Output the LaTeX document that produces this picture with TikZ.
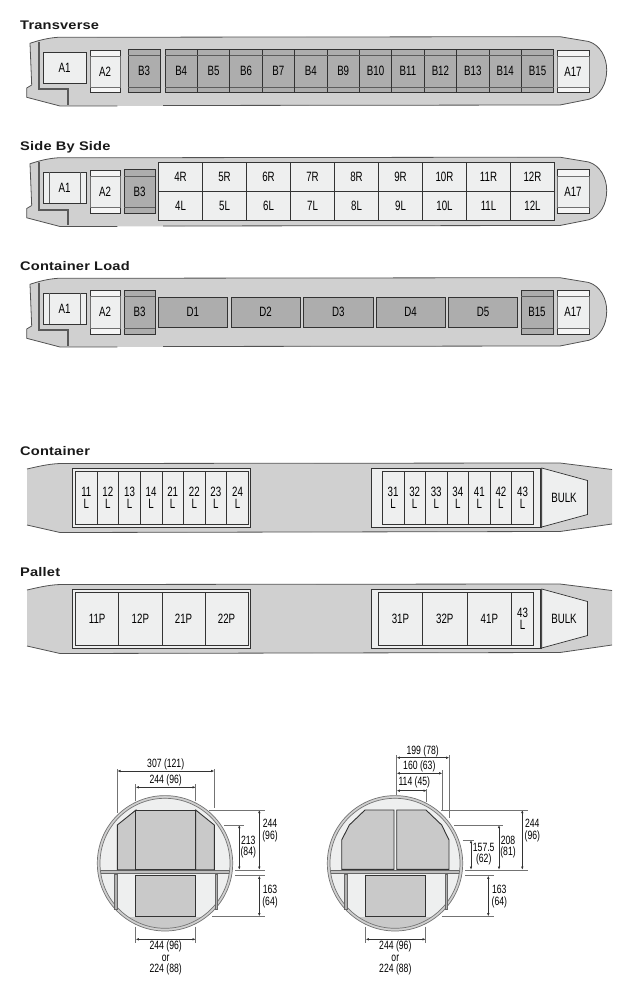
\documentclass[tikz,border=0pt]{standalone}
\usepackage{fontspec}
\usetikzlibrary{arrows.meta}
\setmainfont{Liberation Sans}
\newfontfamily\labfont[FakeStretch=0.72]{Liberation Sans}
\newfontfamily\dimfont[FakeStretch=0.72]{Liberation Sans}
\newfontfamily\titlefont[FakeStretch=1.17,LetterSpace=1.5]{Liberation Sans Bold}
\definecolor{hull}{HTML}{D0D0D0}
\definecolor{pale}{HTML}{EEEFEF}
\definecolor{dark}{HTML}{ADADAD}
\definecolor{ink}{HTML}{333333}
\definecolor{seg}{HTML}{C9C9C9}
\tikzset{
  lab/.style={inner sep=0pt,align=center,text=black,font=\labfont\fontsize{13.5}{12}\selectfont},
  dimlab/.style={inner sep=0pt,align=center,text=black,font=\dimfont\fontsize{12}{11.7}\selectfont},
  ttl/.style={inner sep=0pt,anchor=base west,text=black!90,font=\titlefont\fontsize{12.5}{13}\selectfont},
  palebox/.style={draw=ink,line width=.7pt,fill=pale},
  darkbox/.style={draw=ink,line width=.8pt,fill=dark},
  hullline/.style={draw=ink!85,line width=.8pt},
  doorline/.style={draw=black!65,line width=1.7pt},
  dimline/.style={draw=ink,line width=.6pt,{Latex[length=3.2pt,width=2.6pt]}-{Latex[length=3.2pt,width=2.6pt]}},
  ext/.style={draw=black!55,line width=.6pt},
  cargo/.style={draw=ink,line width=.9pt,fill=seg},
  strut/.style={draw=black!60,line width=.3pt,fill=black!30}
}
\newcounter{nd}
% x0 y0 x1 y1 style text
\newcommand{\cellbox}[6]{\stepcounter{nd}\path[#5] (#1,#2) rectangle (#3,#4);
  \node[lab] (n\arabic{nd}) at ({(#1+#3)/2},{(#2+#4)/2}) {#6};}
% A-type box with white end bands: x0 y0 x1 y1 b1 b2 text
\newcommand{\abox}[7]{\stepcounter{nd}\path[draw=ink,line width=.7pt,fill=white!96!black] (#1,#2) rectangle (#3,#4);
  \path[draw=ink!70,line width=.6pt,fill=pale] (#1,#5) rectangle (#3,#6);
  \node[lab] (n\arabic{nd}) at ({(#1+#3)/2},{(#5+#6)/2}) {#7};}
% dark box with bands
\newcommand{\bbox}[7]{\stepcounter{nd}\path[darkbox] (#1,#2) rectangle (#3,#4);
  \draw[ink!80,line width=.5pt] (#1,#5) -- (#3,#5) (#1,#6) -- (#3,#6);
  \node[lab] (n\arabic{nd}) at ({(#1+#3)/2},{(#5+#6)/2}) {#7};}
% A1 with side bands
\newcommand{\aonebox}[2]{\stepcounter{nd}\path[palebox] (43,#1) rectangle (86,#2);
  \draw[ink!80,line width=.5pt] (49.5,#1) -- (49.5,#2) (80,#1) -- (80,#2);
  \node[lab] (n\arabic{nd}) at (64.5,{(#1+#2)/2}) {A1};}
\newcommand{\hullshape}{
  \path[fill=hull] (30,43.3) .. controls (40,40) and (48,38) .. (58,37.3) -- (560,36.7) -- (588.7,41.5)
    .. controls (600,45) and (606.7,57) .. (606.7,70) .. controls (606.7,84) and (600,96) .. (588.7,99.3)
    -- (560,105) -- (60,106) -- (26.7,97.3) -- (26.7,88) -- (31.7,85) -- cycle;
  \path[hullline] (31.7,85) -- (30,43.3) .. controls (40,40) and (48,38) .. (58,37.3) -- (560,36.7) -- (588.7,41.5)
    .. controls (600,45) and (606.7,57) .. (606.7,70) .. controls (606.7,84) and (600,96) .. (588.7,99.3)
    -- (560,105) -- (163,105.5);
  \path[hullline] (31.7,85) -- (26.7,88) -- (26.7,97.3) -- (60,106) -- (117.3,106);
  \draw[doorline] (39.3,42) -- (39.3,89.3) -- (68.3,89.3) -- (68.3,105);
}
% lower-deck hull
\newcommand{\lowerhull}{
  \path[fill=hull] (27,469) .. controls (38,466.5) and (48,464) .. (60,463.5) -- (560,463) -- (612,469.5)
    -- (612,524) -- (560,531.5) -- (60,532.5) -- (27,525) -- cycle;
  \draw[hullline] (27,469) .. controls (38,466.5) and (48,464) .. (60,463.5) -- (560,463) -- (612,469.5);
  \draw[hullline] (27,525) -- (60,532.5) -- (560,531.5) -- (612,524);
  % left hold
  \path[draw=ink,line width=.7pt,fill=pale] (72.5,468) rectangle (250.5,527);
  % right hold
  \path[draw=ink,line width=.7pt,fill=pale] (371.7,468) rectangle (541.7,527);
  \path[draw=ink,line width=.7pt,fill=pale] (541.7,468) -- (587.5,480.5) -- (587.5,514.5) -- (541.7,527) -- cycle;
  \draw[ink,line width=1pt] (540.7,468) -- (540.7,527);
  \stepcounter{nd}\node[lab] (n\arabic{nd}) at (564,498) {BULK};
}
% cross-section common part, centre x
\newcommand{\crosssection}[1]{
  \begin{scope}[shift={(#1,863.3)}]
    \path[draw=black!55,line width=.7pt,fill=hull] (0,0) circle (67.7);
    \path[fill=pale] (0,0) circle (65);
    \begin{scope}
      \clip (0,0) circle (65);
      \path[fill=seg] (-70,53.5) rectangle (70,70);
      \path[draw=black!60,line width=.4pt,fill=black!25] (-70,7.3) rectangle (70,10);
    \end{scope}
    \draw[black!55,line width=.7pt] (0,0) circle (65);
    \path[strut] (-50.6,10.5) rectangle (-48.2,46);
    \path[strut] (50.2,10.5) rectangle (52.6,46);
  \end{scope}
}
\begin{document}
\begin{tikzpicture}[x=1pt,y=-1pt]
\useasboundingbox (0,0) rectangle (640,992);

\node[ttl] (t1) at (20,29.5) {Transverse};
\node[ttl] (t2) at (20,150.5) {Side By Side};
\node[ttl] (t3) at (20,270.8) {Container Load};
\node[ttl] (t4) at (20,455.8) {Container};
\node[ttl] (t5) at (20,576.5) {Pallet};

% ---------- Transverse
\hullshape
\cellbox{43}{52}{86}{83}{palebox}{A1}
\abox{90}{50}{120}{92}{56}{87}{A2}
\bbox{128}{49.5}{160}{92.5}{55.5}{87}{B3}
\foreach \t [count=\i from 0] in {B4,B5,B6,B7,B4,B9,B10,B11,B12,B13,B14,B15}{
  \pgfmathsetmacro{\xa}{165+32.4*\i}\pgfmathsetmacro{\xb}{\xa+32.4}
  \bbox{\xa}{49.5}{\xb}{92.5}{55.5}{87}{\t}
}
\abox{557}{50}{589}{92}{56}{87}{A17}

% ---------- Side By Side
\begin{scope}[shift={(0,120.5)}]\hullshape\end{scope}
\aonebox{172.5}{203}
\abox{90}{170}{120}{213}{176.5}{207}{A2}
\bbox{124}{169.5}{155}{213}{176.5}{207}{B3}
\foreach \n [count=\i from 0] in {4,5,6,7,8,9,10,11,12}{
  \pgfmathsetmacro{\xa}{158.5+44*\i}\pgfmathsetmacro{\xb}{\xa+44}
  \cellbox{\xa}{162.5}{\xb}{191.5}{palebox}{\n R}
  \cellbox{\xa}{191.5}{\xb}{220.5}{palebox}{\n L}
}
\draw[ink,line width=.9pt] (158.5,162.5) rectangle (554.5,220.5);
\abox{557}{169.5}{589}{213}{176}{207}{A17}

% ---------- Container Load
\begin{scope}[shift={(0,241)}]\hullshape\end{scope}
\aonebox{293.3}{324}
\abox{90}{290}{120}{334}{296}{328}{A2}
\bbox{124}{290}{155}{334}{296}{328}{B3}
\cellbox{158}{297}{227.5}{327.5}{darkbox}{D1}
\cellbox{231}{297}{300}{327.5}{darkbox}{D2}
\cellbox{303.5}{297}{373}{327.5}{darkbox}{D3}
\cellbox{376}{297}{445}{327.5}{darkbox}{D4}
\cellbox{448.5}{297}{517.5}{327.5}{darkbox}{D5}
\bbox{521}{290}{553}{334}{296}{328}{B15}
\abox{557}{290}{589}{334}{296}{328}{A17}

% ---------- Container
\lowerhull
\foreach \n [count=\i from 0] in {11,12,13,14,21,22,23,24}{
  \pgfmathsetmacro{\xa}{75.5+21.6*\i}\pgfmathsetmacro{\xb}{\xa+21.6}
  \cellbox{\xa}{471}{\xb}{524.5}{palebox}{\n\\L}
}
\foreach \n [count=\i from 0] in {31,32,33,34,41,42,43}{
  \pgfmathsetmacro{\xa}{382.3+21.57*\i}\pgfmathsetmacro{\xb}{\xa+21.57}
  \cellbox{\xa}{471}{\xb}{524}{palebox}{\n\\L}
}

% ---------- Pallet
\begin{scope}[shift={(0,121)}]
\lowerhull
\foreach \xa/\xb/\t in {75.5/118.7/11P,118.7/162/12P,162/205/21P,205/248/22P,
                        378.3/422.5/31P,422.5/467/32P,467/511.7/41P}{
  \cellbox{\xa}{471}{\xb}{524}{palebox}{\t}
}
\cellbox{511.7}{471}{533.3}{524}{palebox}{43\\L}
\end{scope}

% ---------- Cross-section, left
\crosssection{165}
\path[cargo] (117.3,869.7) -- (117.3,825) -- (136,810) -- (136,869.7) -- cycle;
\path[cargo] (214.3,869.7) -- (214.3,825) -- (195.7,810) -- (195.7,869.7) -- cycle;
\path[cargo] (135.7,810) rectangle (195.7,869.7);
\path[cargo] (135.7,875.7) rectangle (195.7,916);

\coordinate (la) at (117.3,771); \coordinate (lb) at (214.3,771);
\draw[dimline] (la) -- (lb);
\draw[ext] (117.3,769) -- (117.3,813) (214.3,769) -- (214.3,808);
\node[dimlab] (d1) at (165.7,764.3) {307 (121)};
\coordinate (lc) at (135.7,787.3); \coordinate (ld) at (195.7,787.3);
\draw[dimline] (lc) -- (ld);
\draw[ext] (135.7,784) -- (135.7,801) (195.7,784) -- (195.7,801);
\node[dimlab] (d2) at (165.7,780.7) {244 (96)};

\coordinate (le) at (259.3,810); \coordinate (lf) at (259.3,869.7);
\draw[dimline] (le) -- (lf);
\draw[ext] (209,810) -- (265,810) (235,870) -- (265,870);
\node[dimlab] (d3) at (270,830.8) {244\\(96)};
\coordinate (lg) at (239.3,825); \coordinate (lh) at (239.3,869.7);
\draw[dimline] (lg) -- (lh);
\draw[ext] (224,825) -- (244,825);
\node[dimlab] (d4) at (248.3,847) {213\\(84)};
\coordinate (li) at (259.3,875.7); \coordinate (lj) at (259.3,916.3);
\draw[dimline] (li) -- (lj);
\draw[ext] (235,875.7) -- (265,875.7) (212,916.5) -- (265,916.5);
\node[dimlab] (d5) at (270,896.7) {163\\(64)};
\coordinate (lk) at (135.7,939.3); \coordinate (ll) at (195.7,939.3);
\draw[dimline] (lk) -- (ll);
\draw[ext] (135.7,926.7) -- (135.7,943) (195.7,926.7) -- (195.7,943);
\node[dimlab] (d6) at (165.7,958) {244 (96)\\or\\224 (88)};

% ---------- Cross-section, right
\crosssection{395}
\path[cargo] (341.7,869.3) -- (341.7,840) -- (349.3,825) -- (365,810) -- (394,810) -- (394,869.3) -- cycle;
\path[cargo] (449,869.3) -- (449,840) -- (441.7,825) -- (426,810) -- (396.7,810) -- (396.7,869.3) -- cycle;
\path[cargo] (365.7,875.7) rectangle (425.7,916);

\coordinate (ra) at (396.7,757.7); \coordinate (rb) at (449.3,757.7);
\draw[dimline] (ra) -- (rb);
\draw[ext] (396.7,755) -- (396.7,795) (449.3,755) -- (449.3,818);
\node[dimlab] (e1) at (422.7,751.7) {199 (78)};
\coordinate (rc) at (396.7,773.3); \coordinate (rd) at (442.3,773.3);
\draw[dimline] (rc) -- (rd);
\draw[ext] (442.3,770) -- (442.3,810);
\node[dimlab] (e2) at (419.3,766.7) {160 (63)};
\coordinate (re) at (396.7,790.7); \coordinate (rf) at (426.7,790.7);
\draw[dimline] (re) -- (rf);
\draw[ext] (426.7,789) -- (426.7,801.7);
\node[dimlab] (e3) at (414.3,782.7) {114 (45)};

\coordinate (rg) at (522.3,810); \coordinate (rh) at (522.3,869.7);
\draw[dimline] (rg) -- (rh);
\draw[ext] (441,810) -- (527.7,810) (465,870) -- (527.7,870);
\node[dimlab] (e4) at (532.3,830.8) {244\\(96)};
\coordinate (ri) at (499,825); \coordinate (rj) at (499,869.7);
\draw[dimline] (ri) -- (rj);
\draw[ext] (454,825) -- (502.7,825);
\node[dimlab] (e5) at (508,847) {208\\(81)};
\coordinate (rk) at (471,840); \coordinate (rl) at (471,869.7);
\draw[dimline] (rk) -- (rl);
\draw[ext] (462.7,840) -- (474.3,840);
\node[dimlab] (e6) at (483.7,854) {157.5\\(62)};
\coordinate (rm) at (488.3,875.7); \coordinate (rn) at (488.3,916.3);
\draw[dimline] (rm) -- (rn);
\draw[ext] (465,875.7) -- (494,875.7) (441.7,916.5) -- (494,916.5);
\node[dimlab] (e7) at (499.3,896.7) {163\\(64)};
\coordinate (ro) at (365.7,939.3); \coordinate (rp) at (425.7,939.3);
\draw[dimline] (ro) -- (rp);
\draw[ext] (365.7,926.7) -- (365.7,943) (425.7,926.7) -- (425.7,943);
\node[dimlab] (e8) at (395.3,958) {244 (96)\\or\\224 (88)};
\end{tikzpicture}
\end{document}
